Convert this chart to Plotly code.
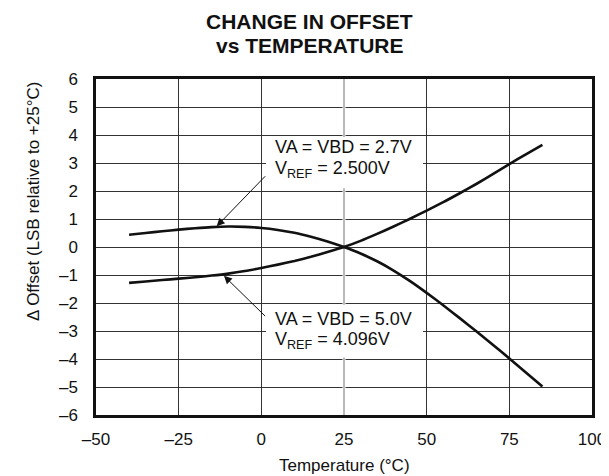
import plotly.graph_objects as go

# ---- data ----
temperature_c = [-40, -35, -30, -25, -20, -15, -10, -5, 0, 5, 10, 15, 20, 25,
                 30, 35, 40, 45, 50, 55, 60, 65, 70, 75, 80, 85]
offset_va27 = [0.44, 0.50, 0.56, 0.62, 0.67, 0.71, 0.73, 0.72, 0.68, 0.61, 0.51, 0.37, 0.20, 0.00,
               -0.23, -0.51, -0.84, -1.22, -1.64, -2.08, -2.54, -3.01, -3.49, -3.98, -4.48, -4.98]
offset_va50 = [-1.28, -1.23, -1.18, -1.13, -1.08, -1.02, -0.95, -0.86, -0.75, -0.63, -0.50, -0.35, -0.18, 0.00,
               0.22, 0.47, 0.73, 1.01, 1.30, 1.60, 1.92, 2.25, 2.60, 2.96, 3.31, 3.65]

x_tick_vals = [-50, -25, 0, 25, 50, 75, 100]
x_tick_text = ["\u201350", "\u201325", "0", "25", "50", "75", "100"]
y_tick_vals = [-6, -5, -4, -3, -2, -1, 0, 1, 2, 3, 4, 5, 6]
y_tick_text = ["\u20136", "\u20135", "\u20134", "\u20133", "\u20132", "\u20131", "0", "1", "2", "3", "4", "5", "6"]

label_va27 = ["VA = VBD = 2.7V", "V<sub>REF</sub> = 2.500V"]
label_va50 = ["VA = VBD = 5.0V", "V<sub>REF</sub> = 4.096V"]

FONT = "Liberation Sans, Arial, Helvetica, sans-serif"
INK = "#111111"

# the page body adds an 8px offset; lay out in screenshot pixels and subtract it
OFF = 8
W, H = 609 - OFF, 476 - OFF
L, R, T, B = 96 - OFF, 592 - OFF, 79 - OFF, 415 - OFF   # plot area in figure pixels

def px(xpix):   # screenshot x -> paper
    return (xpix - OFF - L) / (R - L)
def py(ypix):   # screenshot y -> paper
    return (B - (ypix - OFF)) / (B - T)

fig = go.Figure()

# lighter gridline at 25 °C, as in the reference
fig.add_shape(type="line", x0=25, x1=25, y0=-6, y1=6, xref="x", yref="y",
              line=dict(color="white", width=3), layer="between")
fig.add_shape(type="line", x0=25, x1=25, y0=-6, y1=6, xref="x", yref="y",
              line=dict(color="#8a8a8a", width=1.2), layer="between")

for ys in (offset_va27, offset_va50):
    fig.add_trace(go.Scatter(x=temperature_c, y=ys, mode="lines",
                             line=dict(color=INK, width=2.6, shape="spline", smoothing=0.6),
                             showlegend=False, hoverinfo="skip"))

# white boxes behind the callout labels (cover gridlines)
fig.add_shape(type="rect", x0=1.4, x1=48.9, y0=2.1, y1=3.93, xref="x", yref="y",
              fillcolor="white", line=dict(width=0), layer="above")
fig.add_shape(type="rect", x0=1.4, x1=48.9, y0=-3.95, y1=-2.06, xref="x", yref="y",
              fillcolor="white", line=dict(width=0), layer="above")

annotations = []
for txt, yv in ((label_va27[0], 3.58), (label_va27[1], 2.78), (label_va50[0], -2.57), (label_va50[1], -3.33)):
    annotations.append(dict(x=3.4, y=yv, xref="x", yref="y", text=txt, showarrow=False,
                            xanchor="left", yanchor="middle",
                            font=dict(family=FONT, size=18, color=INK)))
for tip, tail in (((-13.5, 0.74), (1.6, 2.58)), ((-11.3, -1.03), (1.6, -2.52))):
    annotations.append(dict(x=tip[0], y=tip[1], ax=tail[0], ay=tail[1], xref="x", yref="y",
                            axref="x", ayref="y", text="", showarrow=True,
                            arrowhead=2, arrowsize=1.6, arrowwidth=1, arrowcolor=INK))
annotations.append(dict(x=px(309.5), y=py(21.7), xref="paper", yref="paper", text="<b>CHANGE IN OFFSET</b>",
                        showarrow=False, xanchor="center", yanchor="middle",
                        font=dict(family=FONT, size=21, color=INK)))
annotations.append(dict(x=px(309.5), y=py(45.8), xref="paper", yref="paper", text="<b>vs TEMPERATURE</b>",
                        showarrow=False, xanchor="center", yanchor="middle",
                        font=dict(family=FONT, size=21, color=INK)))
annotations.append(dict(x=px(344), y=py(465), xref="paper", yref="paper",
                        text="Temperature (\u00b0C)", showarrow=False, xanchor="center", yanchor="middle",
                        font=dict(family=FONT, size=17, color=INK)))
annotations.append(dict(x=px(33), y=py(202), xref="paper", yref="paper",
                        text="\u0394 Offset (LSB relative to +25\u00b0C)", showarrow=False, textangle=-90,
                        xanchor="center", yanchor="middle",
                        font=dict(family=FONT, size=17, color=INK)))

fig.update_layout(
    width=W, height=H,
    margin=dict(l=L, r=W - R, t=T, b=H - B, pad=0, autoexpand=False),
    paper_bgcolor="white", plot_bgcolor="white",
    annotations=annotations,
    font=dict(family=FONT, size=17, color=INK),
)
fig.update_xaxes(range=[-50, 100], tickvals=x_tick_vals, ticktext=x_tick_text,
                 showgrid=True, gridcolor="#333333", gridwidth=1,
                 showline=True, linecolor=INK, linewidth=2.5, mirror=True,
                 ticks="", zeroline=False, ticklabelstandoff=7, automargin=False,
                 tickfont=dict(family=FONT, size=17, color=INK))
fig.update_yaxes(range=[-6, 6], tickvals=y_tick_vals, ticktext=y_tick_text,
                 showgrid=True, gridcolor="#333333", gridwidth=1,
                 showline=True, linecolor=INK, linewidth=2.5, mirror=True,
                 ticks="", zeroline=False, ticklabelstandoff=12, automargin=False,
                 tickfont=dict(family=FONT, size=17, color=INK))

fig.write_html("out.html")
